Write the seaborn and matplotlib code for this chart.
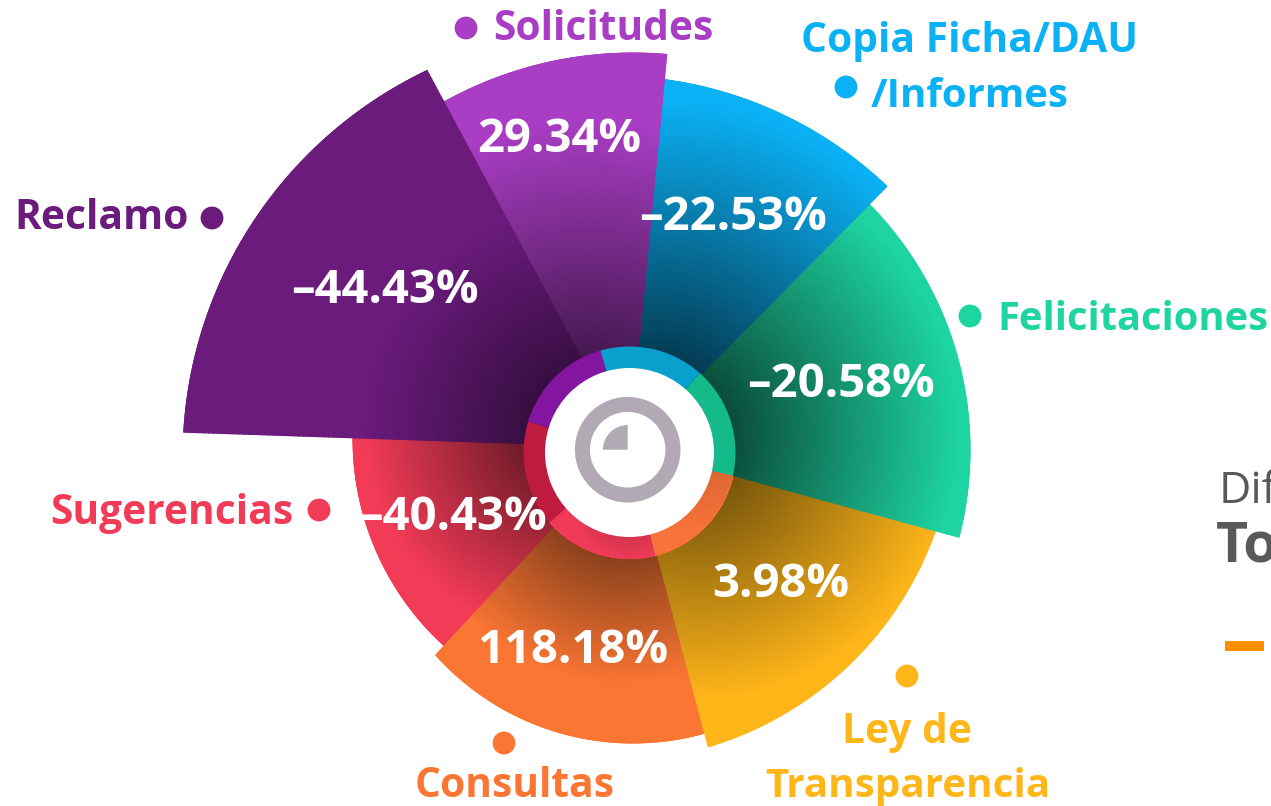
import numpy as np
import matplotlib
matplotlib.use("Agg")
import matplotlib.pyplot as plt
import seaborn as sns
import pandas as pd

W, H = 1271, 806

# ---- data ----
categories = ["Reclamo", "Solicitudes", "Copia Ficha/DAU /Informes", "Felicitaciones",
              "Ley de Transparencia", "Consultas", "Sugerencias"]
percent_labels = ["–44.43%", "29.34%", "–22.53%", "–20.58%", "3.98%", "118.18%", "–40.43%"]
angle_start = [271.9, 331.8, 5.5, 44.7, 105.3, 165.2, 222.9]
angle_end = [331.8, 365.5, 44.7, 105.3, 165.2, 222.9, 271.9]
base_colors = ["#6A1B7C", "#A93DC4", "#0BB1F5", "#1ED5A2", "#FFB619", "#FB7633", "#F23B57"]

# ---- layout / style ----
APEX = (629, 447)
RING = (629.5, 452.5)
arc_cx = [611, 633, 611, 620, 610, 633, 633]
arc_cy = [457, 442, 476, 450, 416, 478, 439]
arc_R = [428, 389, 400, 350, 345, 265, 280]
grad_cx = [590, 590, 660, 665, 698, 625, 570]
grad_cy = [430, 420, 420, 435, 445, 470, 430]
grad_len = [225, 300, 320, 295, 255, 215, 205]
grad_dark = [0.35, 0.25, 0.18, 0.18, 0.35, 0.25, 0.3]
draw_order = [6, 5, 4, 3, 2, 1, 0]

ring_start = [344, 41.5, 103, 166.3, 228.8, 287]
ring_end = [401.5, 103, 166.3, 228.8, 287, 344]
ring_colors = ["#0AA0CE", "#14BA8A", "#F9743A", "#F03B58", "#BE1B3F", "#8415A0"]
ring_dark = [1.0, 1.0, 0.85, 0.7, 1.0, 1.0]
ring_gx = [0, 0, 710, 630, 0, 0]
ring_gy = [0, 0, 450, 500, 0, 0]
ring_len = [0, 0, 85, 60, 0, 0]

dot_x = [212, 466, 846, 970, 907, 504, 319]
dot_y = [218, 28, 87, 316, 676, 743, 510]

name_labels = [("Reclamo", 14, 229, "left"), ("Solicitudes", 493, 40, "left"),
               ("Copia Ficha/DAU", 970, 52, "center"), ("/Informes", 970, 107, "center"),
               ("Felicitaciones", 997, 330, "left"), ("Ley de", 907, 743, "center"),
               ("Transparencia", 908, 797, "center"), ("Consultas", 515, 797, "center"),
               ("Sugerencias", 50, 524, "left")]
name_sizes = [29.3, 29.3, 29.3, 29.0, 28.7, 29.3, 29.1, 29.3, 29.3]
value_x = [385, 559, 733, 841, 781, 573, 453]
value_y = [303, 152, 230, 397, 597, 663, 530]

sns.set_theme(style="white")
plt.rcParams["font.family"] = ["Open Sans", "DejaVu Sans"]

fig = plt.figure(figsize=(W / 100, H / 100), dpi=100, facecolor="white")


def polar_axes(cx, cy, rmax):
    ax = fig.add_axes([(cx - rmax) / W, 1 - (cy + rmax) / H, 2 * rmax / W, 2 * rmax / H],
                      projection="polar")
    ax.set_theta_zero_location("N")
    ax.set_theta_direction(-1)
    ax.set_ylim(0, rmax)
    ax.axis("off")
    ax.patch.set_alpha(0)
    return ax


def circle_radius(theta, ox, oy, R):
    ux, uy = np.sin(theta), -np.cos(theta)
    b = ux * ox + uy * oy
    return b + np.sqrt(b ** 2 - ox ** 2 - oy ** 2 + R ** 2)


def gradient_mesh(ax, origin, a0, a1, r_in, r_out_fn, color, gc, length, dark, z):
    th = np.radians(np.linspace(a0, a1, 160))
    fr = np.linspace(0, 1, 90)
    T, F = np.meshgrid(th, fr)
    R_out = r_out_fn(T)
    RR = r_in + F * (R_out - r_in)
    px = origin[0] + RR * np.sin(T)
    py = origin[1] - RR * np.cos(T)
    t = np.clip(np.hypot(px - gc[0], py - gc[1]) / length, 0, 1)
    rgb = np.array(matplotlib.colors.to_rgb(color))
    cmap = sns.blend_palette([tuple(rgb * dark), tuple(rgb)], n_colors=256, as_cmap=True)
    ax.pcolormesh(T, RR, t, cmap=cmap, vmin=0, vmax=1, shading="gouraud", zorder=z)
    ax.plot(th, R_out[-1], color=color, lw=0.6, zorder=z + 0.1, solid_capstyle="butt")


main = polar_axes(APEX[0], APEX[1], 470)
main.set_zorder(1)
for z, i in enumerate(draw_order):
    ox, oy = arc_cx[i] - APEX[0], arc_cy[i] - APEX[1]
    gradient_mesh(main, APEX, angle_start[i], angle_end[i], 0,
                  lambda th, ox=ox, oy=oy, R=arc_R[i]: circle_radius(th, ox, oy, R),
                  base_colors[i], (grad_cx[i], grad_cy[i]), grad_len[i], grad_dark[i], z + 2)

ring = polar_axes(RING[0], RING[1], 110)
ring.set_zorder(2)
for i in range(6):
    if ring_dark[i] < 1:
        gradient_mesh(ring, RING, ring_start[i], ring_end[i], 84,
                      lambda th: np.full_like(th, 106.0), ring_colors[i],
                      (ring_gx[i], ring_gy[i]), ring_len[i], ring_dark[i], 2 + i)
    else:
        ring.bar(np.radians(ring_start[i]), 22, width=np.radians(ring_end[i] - ring_start[i]),
                 bottom=84, align="edge", color=ring_colors[i], lw=0, zorder=2 + i)
ring.bar(0, 84.5, width=2 * np.pi, bottom=0, align="edge", color="white", lw=0, zorder=20)

icon = polar_axes(627.7, 449.7, 60)
icon.set_zorder(3)
icon.bar(0, 15, width=2 * np.pi, bottom=37.8, align="edge", color="#B1A9B3", lw=0)
icon.bar(np.radians(270), 24.7, width=np.radians(90), bottom=0, align="edge", color="#B1A9B3", lw=0)

over = fig.add_axes([0, 0, 1, 1])
over.set_zorder(5)
over.set_xlim(0, W)
over.set_ylim(H, 0)
over.axis("off")
over.patch.set_alpha(0)
dots = pd.DataFrame({"x": dot_x, "y": dot_y, "cat": categories})
sns.scatterplot(data=dots, x="x", y="y", hue="cat", palette=base_colors, s=270, linewidth=0,
                legend=False, ax=over)
over.set_xlim(0, W)
over.set_ylim(H, 0)
over.axis("off")

label_colors = [base_colors[0], base_colors[1], base_colors[2], base_colors[2], base_colors[3],
                base_colors[4], base_colors[4], base_colors[5], base_colors[6]]
for (txt, x, y, ha), c, fs in zip(name_labels, label_colors, name_sizes):
    over.text(x, y, txt, color=c, fontsize=fs, fontweight="bold", ha=ha, va="baseline")
for x, y, txt in zip(value_x, value_y, percent_labels):
    over.text(x, y, txt, color="white", fontsize=34, fontweight="bold", ha="center", va="baseline")

over.text(1219, 503, "Diferencia", color="#595959", fontsize=32, ha="left", va="baseline")
over.text(1216, 561, "Total", color="#595959", fontsize=40, fontweight="bold", ha="left", va="baseline")
over.plot([1225, 1264], [646, 646], color="#FF9000", lw=7.2, solid_capstyle="butt")

fig.savefig("out.png", dpi=100, facecolor="white")
